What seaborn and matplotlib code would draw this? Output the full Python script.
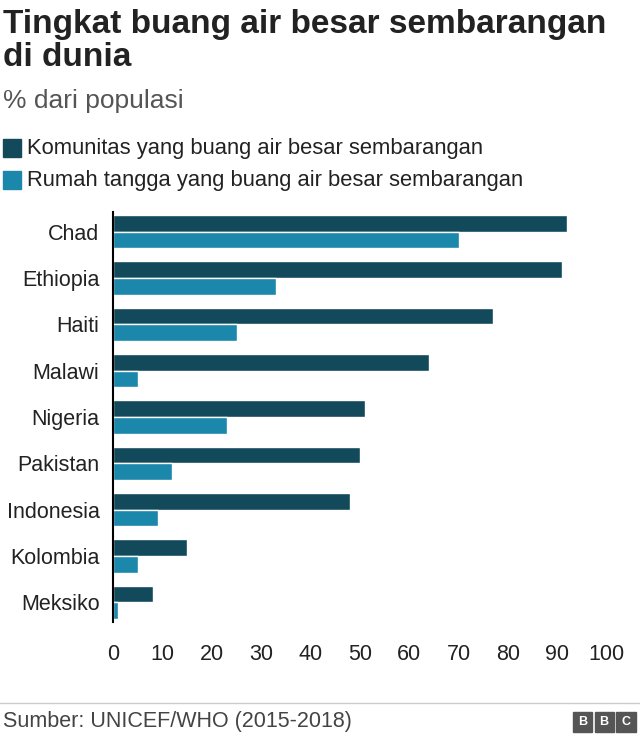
import matplotlib
matplotlib.use("Agg")
import matplotlib.pyplot as plt
import seaborn as sns
import pandas as pd

# Data
countries = ["Chad", "Ethiopia", "Haiti", "Malawi", "Nigeria", "Pakistan",
             "Indonesia", "Kolombia", "Meksiko"]
komunitas = [92, 91, 77, 64, 51, 50, 48, 15, 8]
rumah_tangga = [70, 33, 25, 5, 23, 12, 9, 5, 1]
series = ["Komunitas yang buang air besar sembarangan",
          "Rumah tangga yang buang air besar sembarangan"]
colors = ["#124a5c", "#1a87ab"]

df = pd.DataFrame({
    "negara": countries * 2,
    "nilai": komunitas + rumah_tangga,
    "seri": [series[0]] * len(countries) + [series[1]] * len(countries),
})

sns.set_style("white")
plt.rcParams["font.family"] = ["Liberation Sans", "DejaVu Sans"]

fig = plt.figure(figsize=(6.4, 7.42), dpi=100)
ax = fig.add_axes([0.177, 0.162, 0.771, 0.552])

sns.barplot(data=df, y="negara", x="nilai", hue="seri", palette=colors,
            orient="h", width=0.72, saturation=1, ax=ax, legend=False)

ax.set_xlim(0, 100)
ax.set_ylim(8.42, -0.42)
ax.set_xticks(range(0, 101, 10))
ax.set_xlabel("")
ax.set_ylabel("")
ax.tick_params(axis="both", length=0, labelsize=15.5, colors="#222222")
ax.tick_params(axis="x", pad=16)
ax.tick_params(axis="y", pad=10)
for s in ["top", "right", "bottom"]:
    ax.spines[s].set_visible(False)
ax.spines["left"].set_color("black")
ax.spines["left"].set_linewidth(1.5)

# Titles
fig.text(0.005, 0.988, "Tingkat buang air besar sembarangan\ndi dunia",
         fontsize=24, fontweight="bold", va="top", color="#222222",
         linespacing=1.08)
fig.text(0.005, 0.880, "% dari populasi", fontsize=19, va="top", color="#555555")

# Legend
for i, (lab, c) in enumerate(zip(series, colors)):
    y = 0.800 - i * 0.043
    fig.patches.append(plt.Rectangle((0.005, y - 0.012), 0.028, 0.024,
                                     transform=fig.transFigure, color=c))
    fig.text(0.042, y, lab, fontsize=15.8, va="center", color="#222222")

# Footer
fig.add_artist(plt.Line2D([0, 1], [0.052, 0.052], color="#cccccc", lw=1,
                          transform=fig.transFigure))
fig.text(0.005, 0.027, "Sumber: UNICEF/WHO (2015-2018)", fontsize=15.5,
         va="center", color="#444444")
for k, ch in enumerate("BBC"):
    x0 = 0.895 + k * 0.034
    fig.patches.append(plt.Rectangle((x0, 0.014), 0.03, 0.026,
                                     transform=fig.transFigure, color="#555555"))
    fig.text(x0 + 0.015, 0.027, ch, fontsize=9, fontweight="bold",
             color="white", ha="center", va="center")

fig.savefig("out.png", dpi=100)
